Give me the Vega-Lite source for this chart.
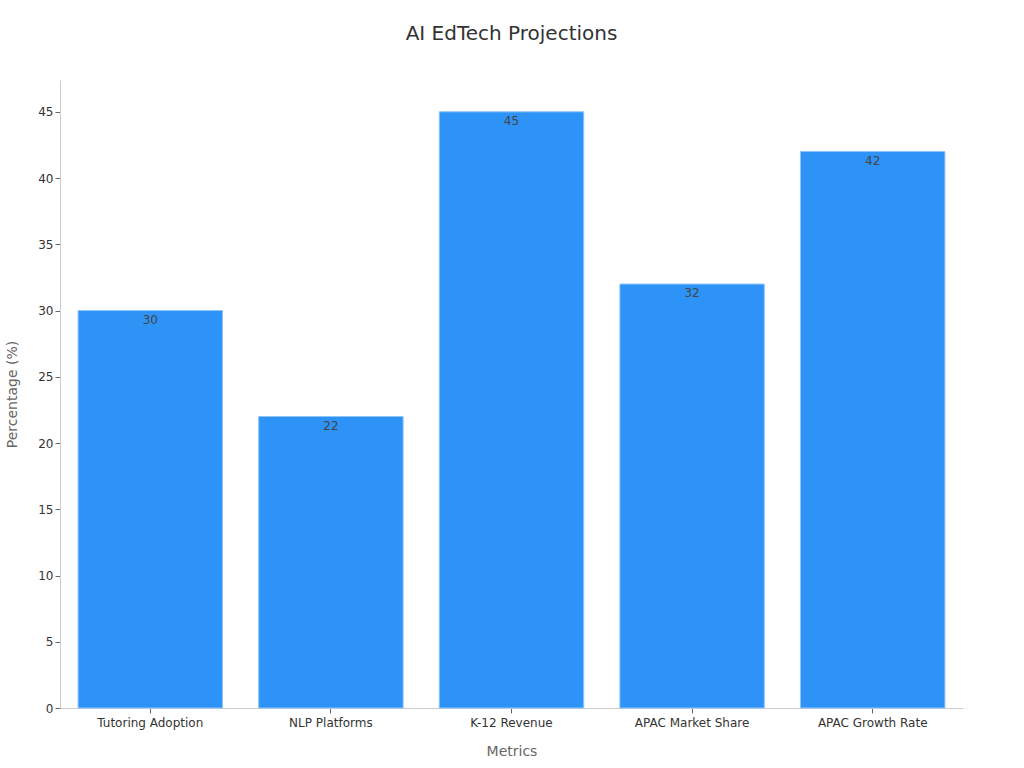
{
  "$schema": "https://vega.github.io/schema/vega-lite/v6.json",
  "autosize": "none",
  "padding": {"left": 60, "top": 80, "right": 61, "bottom": 60},
  "width": 903,
  "height": 628,
  "background": "white",
  "title": {
    "text": "AI EdTech Projections",
    "fontSize": 20,
    "font": "DejaVu Sans",
    "fontWeight": "normal",
    "color": "#333333",
    "anchor": "middle",
    "offset": 36
  },
  "config": {
    "view": {"stroke": null},
    "font": "DejaVu Sans",
    "axis": {
      "labelFont": "DejaVu Sans",
      "titleFont": "DejaVu Sans",
      "labelFontSize": 12,
      "labelColor": "#333333",
      "titleFontSize": 14,
      "titleFontWeight": "normal",
      "titleColor": "#666666",
      "domainColor": "#cccccc",
      "tickColor": "#666666",
      "grid": false
    }
  },
  "data": {
    "values": [
      {"metric": "Tutoring Adoption", "value": 30},
      {"metric": "NLP Platforms", "value": 22},
      {"metric": "K-12 Revenue", "value": 45},
      {"metric": "APAC Market Share", "value": 32},
      {"metric": "APAC Growth Rate", "value": 42}
    ]
  },
  "encoding": {
    "x": {
      "field": "metric",
      "type": "nominal",
      "sort": null,
      "title": "Metrics",
      "scale": {"paddingInner": 0.2, "paddingOuter": 0.1},
      "axis": {"labelAngle": 0, "titlePadding": 16, "tickSize": 5, "labelPadding": 4}
    },
    "y": {
      "field": "value",
      "type": "quantitative",
      "title": "Percentage (%)",
      "scale": {"domain": [0, 47.4], "nice": false},
      "axis": {"values": [0, 5, 10, 15, 20, 25, 30, 35, 40, 45], "titlePadding": 18, "tickSize": 5}
    }
  },
  "layer": [
    {
      "mark": {"type": "bar", "color": "#2E93F7", "stroke": "#8EC5FB", "strokeWidth": 1}
    },
    {
      "mark": {"type": "text", "baseline": "top", "dy": 4, "fontSize": 12, "color": "#444444"},
      "encoding": {"text": {"field": "value", "type": "quantitative"}}
    }
  ]
}
